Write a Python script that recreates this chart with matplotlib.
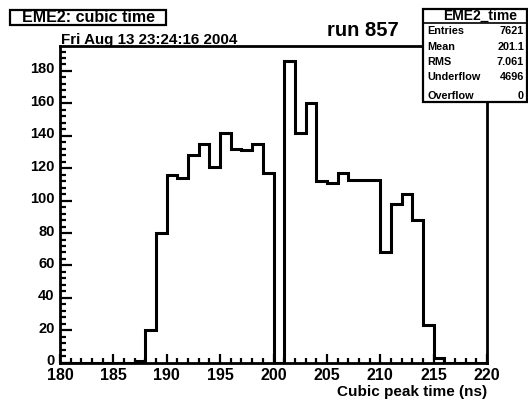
import numpy as np
import matplotlib
matplotlib.use("Agg")
import matplotlib.pyplot as plt
from matplotlib.patches import Rectangle
from matplotlib.lines import Line2D
from matplotlib.ticker import MultipleLocator
from matplotlib.transforms import ScaledTranslation

# Histogram of cubic peak time, 1 ns bins from 180 to 220 ns
bin_edges = np.arange(180, 221, 1)
counts = [0, 0, 0, 0, 0, 0, 0, 1, 20, 80,
          116, 114, 128, 135, 121, 142, 132, 131, 135, 117,
          0, 186, 142, 160, 112, 111, 117, 113, 113, 113,
          68, 98, 104, 88, 23, 3, 0, 0, 0, 0]

hist_title = "EME2: cubic time"
timestamp = "Fri Aug 13 23:24:16 2004"
run_label = "run 857"
x_label = "Cubic peak time (ns)"
stats_name = "EME2_time"
stats_keys = ["Entries", "Mean", "RMS", "Underflow", "Overflow"]
stats_vals = ["7621", "201.1", "7.061", "4696", "0"]

W, H = 528, 400
plt.rcParams['font.family'] = ['Liberation Sans', 'DejaVu Sans']
plt.rcParams['font.weight'] = 'bold'

fig = plt.figure(figsize=(W / 100, H / 100), dpi=100)
fig.patch.set_facecolor('white')

def fx(px):
    return px / W

def fy(py):
    return 1 - py / H

ax = fig.add_axes([fx(60), fy(362.7), fx(487) - fx(60), fy(46) - fy(362.7)])
ax.stairs(counts, bin_edges, color='black', lw=2.2, baseline=0)
ax.set_xlim(180, 220)
ax.set_ylim(0, 195.4)

for side in ['top', 'right', 'left', 'bottom']:
    ax.spines[side].set_linewidth(2.0)

ax.xaxis.set_major_locator(MultipleLocator(5))
ax.xaxis.set_minor_locator(MultipleLocator(1))
ax.yaxis.set_major_locator(MultipleLocator(20))
ax.yaxis.set_minor_locator(MultipleLocator(4))

ax.tick_params(axis='x', which='major', direction='in', length=6.5, width=1.6,
               labelsize=11.5, pad=4)
ax.tick_params(axis='x', which='minor', direction='in', length=3.6, width=1.6)
ax.tick_params(axis='y', which='major', direction='in', length=8.6, width=1.6,
               labelsize=10.5, pad=4)
ax.tick_params(axis='y', which='minor', direction='in', length=4.3, width=1.6)

# y labels sit slightly above their ticks
lift = ScaledTranslation(0, 3 / 100, fig.dpi_scale_trans)
for lab in ax.get_yticklabels():
    lab.set_fontweight('bold')
    lab.set_transform(lab.get_transform() + lift)
for lab in ax.get_xticklabels():
    lab.set_fontweight('bold')

ax.set_xlabel(x_label, fontsize=11, fontweight='bold', loc='right', labelpad=1)

# Title box in the upper-left corner
fig.add_artist(Rectangle((fx(10), fy(25)), fx(166) - fx(10), fy(10) - fy(25),
                         transform=fig.transFigure, facecolor='white',
                         edgecolor='black', lw=1.6))
fig.text(fx(89), fy(17.5), hist_title, ha='center', va='center',
         fontsize=11.5, fontweight='bold')

fig.text(fx(61), fy(40), timestamp, ha='left', va='center',
         fontsize=10.9, fontweight='bold')
fig.text(fx(363), fy(30), run_label, ha='center', va='center',
         fontsize=14.5, fontweight='bold')

# Statistics box in the upper-right corner
bx0, bx1, by0, by1 = 423, 527, 9, 102
fig.add_artist(Rectangle((fx(bx0), fy(by1)), fx(bx1) - fx(bx0), fy(by0) - fy(by1),
                         transform=fig.transFigure, facecolor='white',
                         edgecolor='black', lw=1.6, zorder=5))
fig.add_artist(Line2D([fx(bx0), fx(bx1)], [fy(23), fy(23)],
                      transform=fig.transFigure, color='black', lw=1.2, zorder=6))
fig.text(fx(480), fy(16), stats_name, ha='center', va='center',
         fontsize=10, fontweight='bold', zorder=7)
row_y = [31, 47, 62, 77, 96]
for key, val, ry in zip(stats_keys, stats_vals, row_y):
    fig.text(fx(427), fy(ry), key, ha='left', va='center',
             fontsize=7.8, fontweight='bold', zorder=7)
    fig.text(fx(524), fy(ry), val, ha='right', va='center',
             fontsize=7.8, fontweight='bold', zorder=7)

fig.savefig("out.png", dpi=100, facecolor='white')
